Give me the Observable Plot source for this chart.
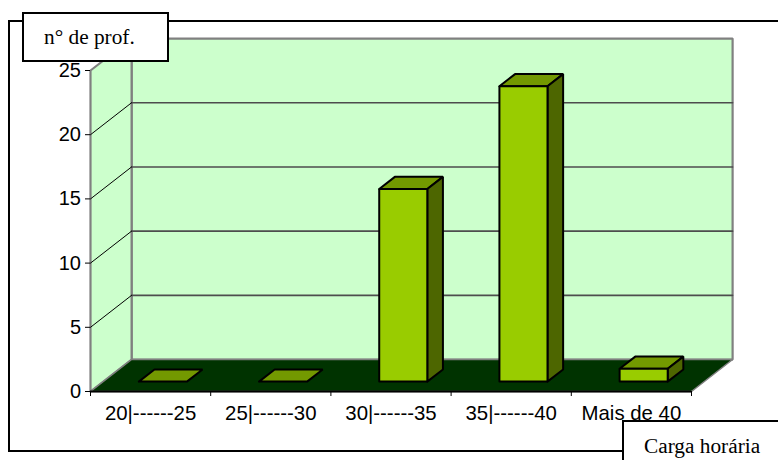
<!DOCTYPE html>
<html lang="pt">
<head>
<meta charset="utf-8">
<style>
  html, body { margin: 0; padding: 0; background: #fff; }
  #page { position: relative; width: 778px; height: 460px; overflow: hidden; }
  #page svg { position: absolute; left: 0; top: 0; background: transparent; }
  .frame { position: absolute; left: 8px; top: 20px; width: 800px; height: 428px; border: 2px solid #000; box-sizing: content-box; }
  .tag { position: absolute; background: #fff; border: 2px solid #000; font: 21.3px "Liberation Serif", serif; color: #000; box-sizing: border-box; white-space: nowrap; }
  #tag-y { left: 22px; top: 12px; width: 147px; height: 50px; padding: 11px 0 0 20px; }
  #tag-x { left: 622px; top: 420px; width: 180px; height: 60px; padding: 12px 0 0 20px; }
</style>
<script src="https://cdn.jsdelivr.net/npm/d3@7"></script>
<script src="https://cdn.jsdelivr.net/npm/@observablehq/plot@0.6"></script>
</head>
<body>
<div id="page">
  <div class="frame"></div>
  <div id="chart"></div>
  <div class="tag" id="tag-y">n° de prof.</div>
  <div class="tag" id="tag-x">Carga horária</div>
</div>
<script>
// Number of teachers per weekly workload band
const categories = ["20|------25", "25|------30", "30|------35", "35|------40", "Mais de 40"];
const counts = [0, 0, 15, 23, 1];
const yTicks = [0, 5, 10, 15, 20, 25];

// Oblique projection of the chart box: depth d (0 front, 1 back) shifts along both axes
const depthX = 0.342;
const depthY = 2.49;
const project = (x, y, d) => ({ x: x + d * depthX, y: y + d * depthY });

// Bars occupy the middle of each band and of the floor depth
const barStart = 0.296;
const barEnd = 0.696;
const dNear = 0.31;
const dFar = 0.69;

const poly = (id, corners) =>
  [...corners, corners[0]].map(([x, y, d]) => ({ id, ...project(x, y, d) }));

const face = (polys, fill, stroke, strokeWidth) =>
  Plot.line(polys.flat(), { x: "x", y: "y", z: "id", fill, stroke, strokeWidth, strokeLinejoin: "miter" });

const xMax = categories.length;
const yMax = d3.max(yTicks);

const backWall = poly("back", [[0, 0, 1], [xMax, 0, 1], [xMax, yMax, 1], [0, yMax, 1]]);
const sideWall = poly("side", [[0, 0, 0], [0, 0, 1], [0, yMax, 1], [0, yMax, 0]]);
const floor = poly("floor", [[0, 0, 0], [xMax, 0, 0], [xMax, 0, 1], [0, 0, 1]]);

const inner = yTicks.filter((t) => t > 0 && t < yMax);
const backGrid = inner.map((t) => poly(`b${t}`, [[0, t, 1], [xMax, t, 1]]).slice(0, 2));
const sideGrid = inner.map((t) => poly(`s${t}`, [[0, t, 0], [0, t, 1]]).slice(0, 2));

const bars = counts.map((v, i) => ({ i, v, a: i + barStart, b: i + barEnd }));
const tops = bars.map(({ i, v, a, b }) => poly(`t${i}`, [[a, v, dNear], [b, v, dNear], [b, v, dFar], [a, v, dFar]]));
const sides = bars.filter((d) => d.v > 0).map(({ i, v, b }) => poly(`r${i}`, [[b, 0, dNear], [b, 0, dFar], [b, v, dFar], [b, v, dNear]]));
const fronts = bars.filter((d) => d.v > 0).map(({ i, v, a, b }) => poly(`f${i}`, [[a, 0, dNear], [b, 0, dNear], [b, v, dNear], [a, v, dNear]]));

const sans = "'Liberation Sans', Arial, sans-serif";

const chart = Plot.plot({
  width: 778,
  height: 460,
  marginLeft: 90,
  marginRight: 87,
  marginTop: 70,
  marginBottom: 69,
  style: { background: "transparent", overflow: "visible" },
  x: { type: "linear", domain: [0, xMax] },
  y: { type: "linear", domain: [0, yMax] },
  marks: [
    face([backWall, sideWall], "#CCFFCC", "#808080", 2.2),
    face(backGrid, "none", "#4d4d4d", 1.6),
    face(sideGrid, "none", "#000000", 1),
    face([floor], "#003300", "#808080", 1.5),
    Plot.ruleY([0], { stroke: "#000", strokeWidth: 2 }),
    face(tops, "#739900", "#000", 2),
    face(sides, "#4D6600", "#000", 2),
    face(fronts, "#99CC00", "#000", 2),
    Plot.axisY({ ticks: yTicks, tickSize: 5, tickPadding: 4.5, label: null, fontSize: 20, fontFamily: sans, color: "#000" }),
    Plot.axisX({ ticks: d3.range(xMax + 1), tickSize: 5, tickFormat: () => "", label: null }),
    Plot.axisX({
      ticks: categories.map((_, i) => i + 0.5),
      tickSize: 0,
      tickPadding: 14,
      tickFormat: (t) => categories[t - 0.5],
      label: null,
      fontSize: 20.4,
      fontFamily: sans,
      color: "#000"
    })
  ]
});
document.getElementById("chart").append(chart);
</script>
</body>
</html>
